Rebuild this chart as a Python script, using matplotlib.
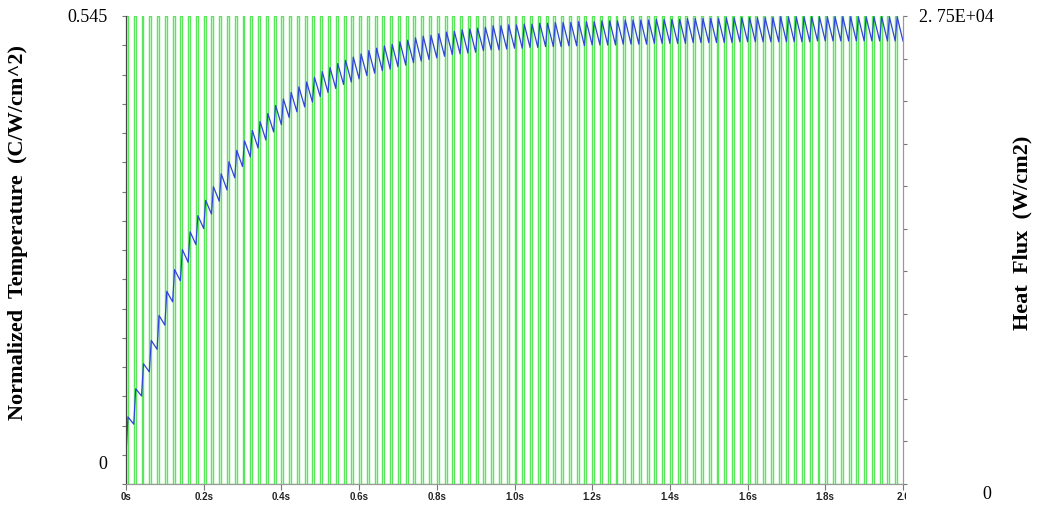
import numpy as np
import matplotlib.pyplot as plt
from matplotlib.transforms import Bbox, TransformedBbox

# pulse train driving the heat flux (W/cm2)
n_pulses = 100
pulse_period = 0.02      # s
pulse_width = 0.005      # s
pulse_amplitude = 2.75e4

# normalized temperature at the end of each pulse (peak) and just before the next one (valley)
temp_peak = [
    0.047, 0.082, 0.113, 0.142, 0.173, 0.203, 0.230, 0.255, 0.277, 0.297,
    0.316, 0.333, 0.349, 0.364, 0.378, 0.390, 0.403, 0.414, 0.424, 0.434,
    0.442, 0.450, 0.457, 0.463, 0.469, 0.476, 0.481, 0.486, 0.490, 0.494,
    0.498, 0.502, 0.505, 0.508, 0.510, 0.513, 0.515, 0.518, 0.520, 0.521,
    0.523, 0.525, 0.526, 0.528, 0.529, 0.530, 0.531, 0.533, 0.533, 0.534,
    0.534, 0.535, 0.535, 0.536, 0.536, 0.537, 0.537, 0.537, 0.538, 0.538,
    0.538, 0.539, 0.539, 0.539, 0.540, 0.540, 0.540, 0.540, 0.541, 0.541,
    0.541, 0.541, 0.542, 0.542, 0.542, 0.542, 0.542, 0.543, 0.543, 0.543,
    0.543, 0.543, 0.543, 0.543, 0.544, 0.544, 0.544, 0.544, 0.544, 0.544,
    0.544, 0.544, 0.544, 0.544, 0.544, 0.544, 0.544, 0.544, 0.544, 0.544,
]
temp_valley = [
    0.038, 0.073, 0.103, 0.131, 0.161, 0.190, 0.216, 0.239, 0.261, 0.281,
    0.299, 0.315, 0.329, 0.344, 0.358, 0.370, 0.381, 0.391, 0.401, 0.410,
    0.419, 0.426, 0.432, 0.438, 0.445, 0.450, 0.455, 0.460, 0.463, 0.467,
    0.471, 0.474, 0.477, 0.479, 0.482, 0.484, 0.487, 0.489, 0.491, 0.493,
    0.495, 0.497, 0.498, 0.499, 0.500, 0.502, 0.503, 0.503, 0.504, 0.505,
    0.505, 0.506, 0.506, 0.507, 0.507, 0.507, 0.508, 0.508, 0.508, 0.509,
    0.509, 0.509, 0.509, 0.510, 0.510, 0.510, 0.510, 0.511, 0.511, 0.511,
    0.511, 0.511, 0.512, 0.512, 0.512, 0.512, 0.512, 0.512, 0.513, 0.513,
    0.513, 0.513, 0.513, 0.513, 0.513, 0.513, 0.513, 0.513, 0.514, 0.514,
    0.514, 0.514, 0.514, 0.514, 0.514, 0.514, 0.514, 0.514, 0.514, 0.514,
]

x_ticks = [0, 0.2, 0.4, 0.6, 0.8, 1.0, 1.2, 1.4, 1.6, 1.8, 2.0]
x_ticklabels = ['0s', '0.2s', '0.4s', '0.6s', '0.8s', '1.0s', '1.2s', '1.4s', '1.6s', '1.8s', '2.0']
t_max = 0.545

# square wave for the flux
starts = np.arange(n_pulses) * pulse_period
t_flux = np.repeat(np.column_stack([starts, starts + pulse_width]).ravel(), 2)
q_flux = np.tile([0, pulse_amplitude, pulse_amplitude, 0], n_pulses)
t_flux = np.append(t_flux, n_pulses * pulse_period)
q_flux = np.append(q_flux, 0)

# temperature: rises during each pulse, decays until the next one
t_temp = [0.0]
v_temp = [0.0]
for k in range(n_pulses):
    t_temp += [starts[k] + pulse_width, starts[k + 1] if k + 1 < n_pulses else n_pulses * pulse_period]
    v_temp += [temp_peak[k], temp_valley[k]]

fig = plt.figure(figsize=(10.37, 5.06), dpi=100)
ax = fig.add_axes([126 / 1037, 21 / 506, 777 / 1037, 468 / 506])
ax2 = ax.twinx()
ax.set_zorder(ax2.get_zorder() + 1)
ax.patch.set_visible(False)

ax2.plot(t_flux, q_flux, color='#5ae65a', lw=1.0, antialiased=True)
ax.plot(t_temp, v_temp, color='#2f44d8', lw=0.9)

ax.set_xlim(0, 2.0)
ax.set_ylim(-t_max / 15, t_max)
ax2.set_ylim(0, pulse_amplitude)

ax.set_yticks(np.arange(-1, 16) * t_max / 15)
ax2.set_yticks(np.arange(0, 12) * 2500)
ax.set_xticks(x_ticks)
ax.tick_params(axis='y', length=3, color='#777777', labelleft=False)
ax2.tick_params(axis='y', length=3, color='#777777', labelright=False)
ax.tick_params(axis='x', length=4, color='#777777', labelbottom=False)

for a in (ax, ax2):
    a.spines['top'].set_visible(False)
    a.spines['bottom'].set_color('#999999')
    a.spines['left'].set_color('#444444')
    a.spines['right'].set_color('#999999')

# tick labels written by hand
clip = TransformedBbox(Bbox([[0, 0], [906 / 1037, 1]]), fig.transFigure)
for xv, lab in zip(x_ticks, x_ticklabels):
    txt = ax.text(xv, -0.014, lab, transform=ax.get_xaxis_transform(), ha='center', va='top',
                  fontsize=7, fontweight='bold', family='Liberation Sans', color='#222222')
    txt.set_clip_box(clip)
    txt.set_clip_on(True)

ax.text(-0.024, 1.0, '0.545', transform=ax.transAxes, ha='right', va='center',
        fontsize=13, family='Liberation Serif')
ax.text(-0.024, 0.0 + 20 / 468, '0', transform=ax.transAxes, ha='right', va='center',
        fontsize=13, family='Liberation Serif')
ax.text(1.020, 1.0, '2. 75E+04', transform=ax.transAxes, ha='left', va='center',
        fontsize=13, family='Liberation Serif')
ax.text(1.108, -10 / 468, '0', transform=ax.transAxes, ha='center', va='center',
        fontsize=13, family='Liberation Serif')

fig.text(18 / 1037, 1 - 233 / 506, 'Normalized  Temperature  (C/W/cm^2)', rotation=90,
         ha='center', va='center', fontsize=16, fontweight='bold', family='Liberation Serif')
fig.text(1022 / 1037, 1 - 233 / 506, 'Heat  Flux  (W/cm2)', rotation=90,
         ha='center', va='center', fontsize=16, fontweight='bold', family='Liberation Serif')

fig.savefig('out.png', dpi=100)
